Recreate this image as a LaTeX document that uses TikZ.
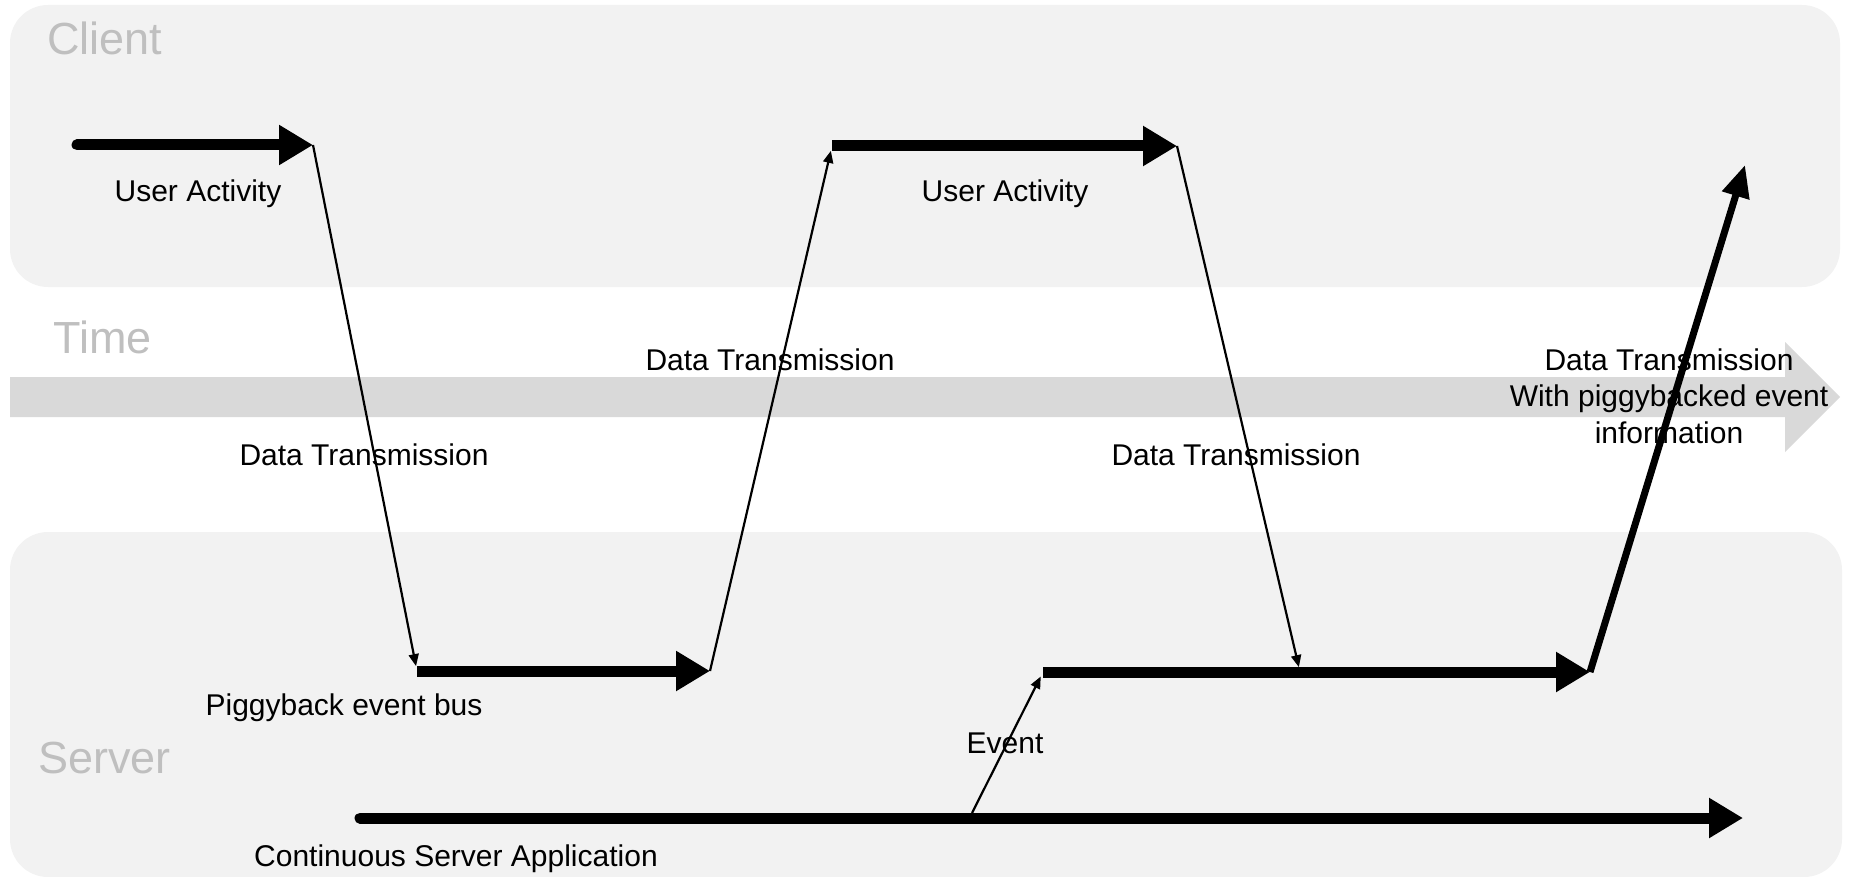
\documentclass[tikz,border=0pt]{standalone}
\usepackage{fontspec}
\setmainfont{Liberation Sans}
\usetikzlibrary{arrows.meta}
\definecolor{panelgray}{HTML}{F2F2F2}
\definecolor{timegray}{HTML}{D9D9D9}
\definecolor{zonegray}{HTML}{BFBFBF}
\begin{document}
\begin{tikzpicture}[x=1pt,y=-1pt,
  panel/.style={fill=panelgray, draw=none, rounded corners=38pt},
  lbl/.style={inner sep=0pt, anchor=base, font=\fontsize{30}{36.5}\selectfont, text=black},
  zone/.style={inner sep=0pt, anchor=base west, font=\fontsize{45}{54}\selectfont, text=zonegray},
  bigarrow/.style={line width=11pt, -{Triangle[length=34pt,width=38pt]}},
  thinarrow/.style={line width=2.2pt, -{Triangle[length=12pt,width=10pt]}},
  finarrow/.style={line width=7pt, -{Triangle[length=32pt,width=27pt]}},
]
\useasboundingbox (0,0) rectangle (1849,877);
% panels
\path[panel] (10,5) rectangle (1840,287);
\path[panel] (10,532) rectangle (1842,877);
% time arrow
\fill[timegray] (10,377) -- (1785,377) -- (1785,342) -- (1840,397) -- (1785,452) -- (1785,417) -- (10,417) -- cycle;
% zone labels
\node[zone] (client) at (47,55) {Client};
\node[zone] (time) at (53,353) {Time};
\node[zone] (server) at (38,773) {Server};
% text labels
\node[lbl] (ua1) at (198,202) {User Activity};
\node[lbl] (ua2) at (1005,202) {User Activity};
\node[lbl] (dt1) at (364,465) {Data Transmission};
\node[lbl] (dt2) at (770,370) {Data Transmission};
\node[lbl] (dt3) at (1236,465) {Data Transmission};
\node[lbl, anchor=north, align=center] (dt4) at (1669,348.5) {Data Transmission\\With piggybacked event\\information};
\node[lbl] (pbl) at (344,715) {Piggyback event bus};
\node[lbl] (evl) at (1005,753) {Event};
\node[lbl] (csa) at (456,866) {Continuous Server Application};
% key points
\coordinate (ua1s) at (77,145);
\coordinate (ua1e) at (313,145);
\coordinate (pb1s) at (417,671);
\coordinate (pb1e) at (710,671);
\coordinate (ua2s) at (832,146);
\coordinate (ua2e) at (1177,146);
\coordinate (pb2s) at (1043,672);
\coordinate (pb2in) at (1300,672);
\coordinate (pb2e) at (1590,672);
\coordinate (cs) at (360,818);
\coordinate (ce) at (1743,818);
\coordinate (ev) at (972,813);
\coordinate (fin) at (1745,165);
% thick arrows
\draw[bigarrow, line cap=round] (ua1s) -- (ua1e);
\draw[bigarrow] (pb1s) -- (pb1e);
\draw[bigarrow] (ua2s) -- (ua2e);
\draw[bigarrow] (pb2s) -- (pb2e);
\draw[bigarrow, line cap=round] (cs) -- (ce);
% thin transmissions
\draw[thinarrow, shorten >=5pt] (ua1e) -- (pb1s);
\draw[thinarrow, shorten >=5pt] (pb1e) -- (ua2s);
\draw[thinarrow, shorten >=5pt] (ua2e) -- (pb2in);
\draw[thinarrow, shorten >=5pt] (ev) -- (pb2s);
\draw[finarrow] (pb2e) -- (fin);
\end{tikzpicture}
\end{document}
